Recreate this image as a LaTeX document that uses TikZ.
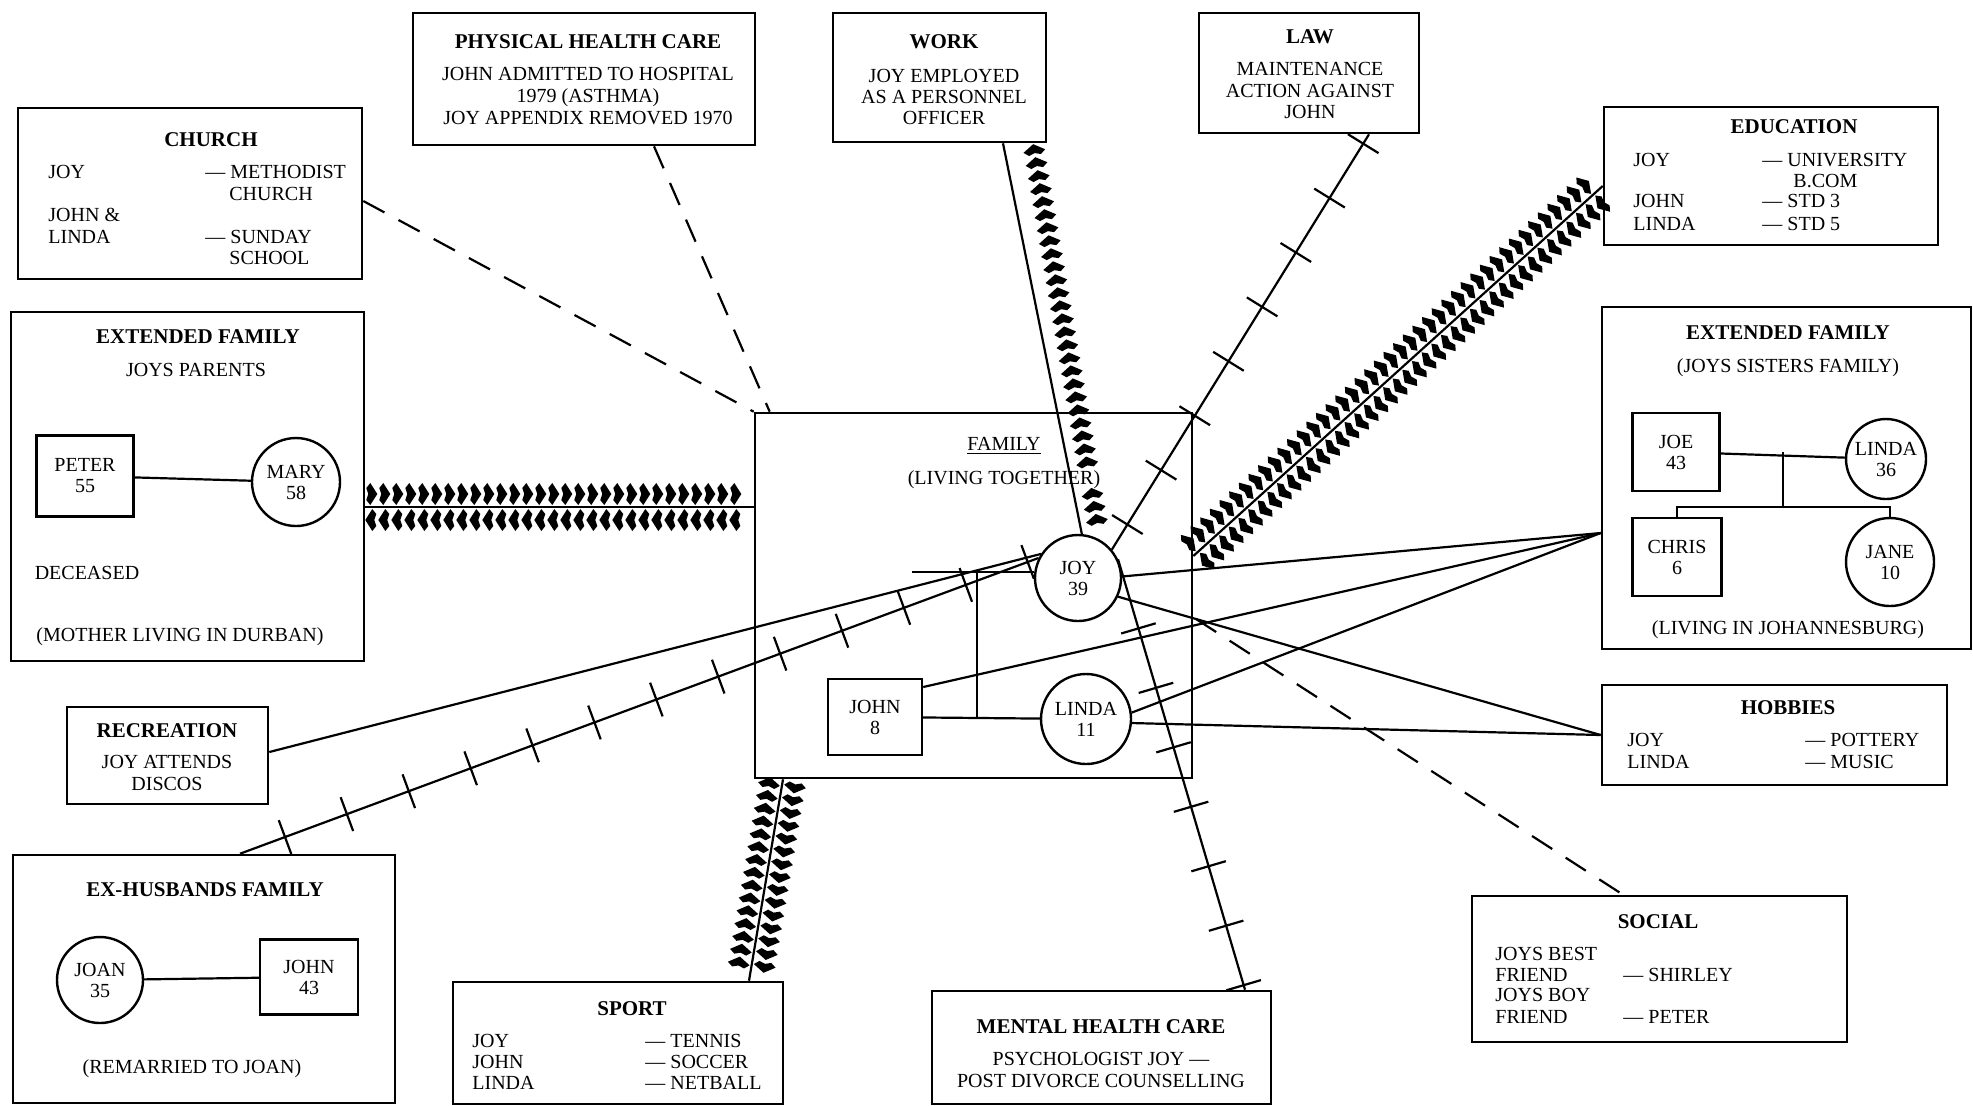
\documentclass[tikz,border=0pt]{standalone}
\usepackage{fontspec}
\setmainfont{Liberation Serif}
\usetikzlibrary{decorations.markings,fit}

\begin{document}
\begin{tikzpicture}[
  x=0.5pt, y=-0.5pt,
  font=\fontsize{10}{10.5}\selectfont,
  box/.style={draw, line width=1.3pt, inner sep=0pt},
  male/.style={draw, line width=1.2pt, minimum width=47pt, minimum height=38pt, align=center, inner sep=1pt},
  fem/.style={circle, draw, line width=1.2pt, minimum size=43pt, align=center, inner sep=1pt},
  txt/.style={inner sep=0pt, text height=6.6pt, text depth=0pt},
  lft/.style={txt, anchor=west},
  ttl/.style={txt, font=\fontsize{10.5}{11}\selectfont\bfseries},
  link/.style={line width=1.1pt},
  weak/.style={link, dash pattern=on 12pt off 8pt},
  % strong flow both ways: line with a row of heads on each side
  energy both/.style={postaction={decorate, decoration={markings,
      mark=between positions 3pt and -3pt step 6.5pt with {
        \fill (3pt,6.5pt) -- (-0.5pt,12pt) -- (-2.5pt,9.5pt) -- (-1.5pt,6.5pt)
          -- (-2.5pt,3.5pt) -- (-0.5pt,1pt) -- cycle;
        \fill (-3pt,-6.5pt) -- (0.5pt,-12pt) -- (2.5pt,-9.5pt) -- (1.5pt,-6.5pt)
          -- (2.5pt,-3.5pt) -- (0.5pt,-1pt) -- cycle;}}}},
  % flow one way: heads only, no line
  energy one/.style={postaction={decorate, decoration={markings,
      mark=between positions #1 step 6.6pt with {
        \fill (3pt,0) -- (-0.5pt,5.5pt) -- (-2.5pt,3pt) -- (-1.5pt,0)
          -- (-2.5pt,-3pt) -- (-0.5pt,-5.5pt) -- cycle;}}}},
  % stressful: crossed line
  stress/.style={postaction={decorate, decoration={markings,
      mark=between positions #1 with {\draw[line width=1.1pt] (0,-9pt) -- (0,9pt);}}}}
  ]

  \useasboundingbox (0,0) rectangle (1973,1105);

  % systems
  \node[box, fit={(18,108) (362,279)}] (church) {};
  \node[box, fit={(413,13) (755,145)}] (phys) {};
  \node[box, fit={(833,13) (1046,142)}] (work) {};
  \node[box, fit={(1199,13) (1419,133)}] (law) {};
  \node[box, fit={(1604,107) (1938,245)}] (edu) {};
  \node[box, fit={(11,312) (364,661)}] (extL) {};
  \node[box, fit={(755,413) (1192,778)}] (fam) {};
  \node[box, fit={(1602,307) (1971,649)}] (extR) {};
  \node[box, fit={(67,707) (268,804)}] (rec) {};
  \node[box, fit={(1602,685) (1947,785)}] (hob) {};
  \node[box, fit={(13,855) (395,1103)}] (exh) {};
  \node[box, fit={(453,982) (783,1104)}] (sport) {};
  \node[box, fit={(932,991) (1271,1104)}] (mental) {};
  \node[box, fit={(1472,896) (1847,1042)}] (social) {};

  % church
  \node[ttl] (churchT) at (211,140) {CHURCH};
  \node[lft] (church1) at (48,172) {JOY};
  \node[lft] (church2) at (205,172) {— METHODIST};
  \node[lft] (church3) at (229,194) {CHURCH};
  \node[lft] (church4) at (48,215) {JOHN \&};
  \node[lft] (church5) at (48,237) {LINDA};
  \node[lft] (church6) at (205,237) {— SUNDAY};
  \node[lft] (church7) at (229,258) {SCHOOL};

  % physical health care
  \node[ttl] (physT) at (588,42) {PHYSICAL HEALTH CARE};
  \node[txt] (phys1) at (588,74) {JOHN ADMITTED TO HOSPITAL};
  \node[txt] (phys2) at (588,96) {1979 (ASTHMA)};
  \node[txt] (phys3) at (588,118) {JOY APPENDIX REMOVED 1970};

  % work
  \node[ttl] (workT) at (944,42) {WORK};
  \node[txt] (work1) at (944,76) {JOY EMPLOYED};
  \node[txt] (work2) at (944,97) {AS A PERSONNEL};
  \node[txt] (work3) at (944,118) {OFFICER};

  % law
  \node[ttl] (lawT) at (1310,37) {LAW};
  \node[txt] (law1) at (1310,69) {MAINTENANCE};
  \node[txt] (law2) at (1310,91) {ACTION AGAINST};
  \node[txt] (law3) at (1310,112) {JOHN};

  % education
  \node[ttl] (eduT) at (1794,127) {EDUCATION};
  \node[lft] (edu1) at (1633,160) {JOY};
  \node[lft] (edu2) at (1762,160) {— UNIVERSITY};
  \node[lft] (edu3) at (1793,181) {B.COM};
  \node[lft] (edu4) at (1633,201) {JOHN};
  \node[lft] (edu5) at (1762,201) {— STD 3};
  \node[lft] (edu6) at (1633,224) {LINDA};
  \node[lft] (edu7) at (1762,224) {— STD 5};

  % extended family (parents)
  \node[ttl] (extLT) at (198,337) {EXTENDED FAMILY};
  \node[txt] (extL1) at (196,370) {JOYS PARENTS};
  \node[male, minimum width=48.5pt, minimum height=40.5pt] (peter) at (85,476) {PETER\\55};
  \node[fem, minimum size=44pt] (mary) at (296,482) {MARY\\58};
  \node[txt] (extL2) at (87,573) {DECEASED};
  \node[txt] (extL3) at (180,635) {(MOTHER LIVING IN DURBAN)};

  % household
  \node[txt] (famT) at (1004,444) {\underline{FAMILY}};
  \node[txt] (fam1) at (1004,478) {(LIVING TOGETHER)};
  \node[fem] (joy) at (1078,578) {JOY\\39};
  \node[male] (john) at (875,717) {JOHN\\8};
  \node[fem, minimum size=45pt] (linda) at (1086,719) {LINDA\\11};

  % extended family (sister)
  \node[ttl] (extRT) at (1788,333) {EXTENDED FAMILY};
  \node[txt] (extR1) at (1788,366) {(JOYS SISTERS FAMILY)};
  \node[male, minimum width=43.5pt, minimum height=39pt] (joe) at (1676,452) {JOE\\43};
  \node[fem, minimum size=40pt] (lin2) at (1886,459) {LINDA\\36};
  \node[male, minimum width=44.5pt, minimum height=39pt] (chris) at (1677,557) {CHRIS\\6};
  \node[fem, minimum size=44pt] (jane) at (1890,562) {JANE\\10};
  \node[txt] (extR2) at (1788,628) {(LIVING IN JOHANNESBURG)};

  % recreation
  \node[ttl] (recT) at (167,731) {RECREATION};
  \node[txt] (rec1) at (167,762) {JOY ATTENDS};
  \node[txt] (rec2) at (167,784) {DISCOS};

  % hobbies
  \node[ttl] (hobT) at (1788,708) {HOBBIES};
  \node[lft] (hob1) at (1627,740) {JOY};
  \node[lft] (hob2) at (1805,740) {— POTTERY};
  \node[lft] (hob3) at (1627,762) {LINDA};
  \node[lft] (hob4) at (1805,762) {— MUSIC};

  % ex-husband
  \node[ttl] (exhT) at (205,890) {EX-HUSBANDS FAMILY};
  \node[fem] (joan) at (100,980) {JOAN\\35};
  \node[male, minimum width=49pt, minimum height=37.5pt] (exjohn) at (309,977) {JOHN\\43};
  \node[txt] (exh1) at (192,1067) {(REMARRIED TO JOAN)};

  % sport
  \node[ttl] (sportT) at (632,1009) {SPORT};
  \node[lft] (sport1) at (472,1041) {JOY};
  \node[lft] (sport2) at (645,1041) {— TENNIS};
  \node[lft] (sport3) at (472,1062) {JOHN};
  \node[lft] (sport4) at (645,1062) {— SOCCER};
  \node[lft] (sport5) at (472,1083) {LINDA};
  \node[lft] (sport6) at (645,1083) {— NETBALL};

  % mental health care
  \node[ttl] (mentalT) at (1101,1027) {MENTAL HEALTH CARE};
  \node[txt] (mental1) at (1101,1059) {PSYCHOLOGIST JOY —};
  \node[txt] (mental2) at (1101,1081) {POST DIVORCE COUNSELLING};

  % social
  \node[ttl] (socialT) at (1658,922) {SOCIAL};
  \node[lft] (social1) at (1495,954) {JOYS BEST};
  \node[lft] (social2) at (1495,975) {FRIEND};
  \node[lft] (social3) at (1623,975) {— SHIRLEY};
  \node[lft] (social4) at (1495,995) {JOYS BOY};
  \node[lft] (social5) at (1495,1017) {FRIEND};
  \node[lft] (social6) at (1623,1017) {— PETER};

  % family trees
  \coordinate (exm) at (912,572);
  \coordinate (famM) at (977,572);
  \coordinate (sisM) at (1783,452);
  \coordinate (sisK) at (1783,507);
  \draw[link] (peter) -- (mary);
  \draw[link] (joan) -- (exjohn);
  \draw[link] (john) -- (linda);
  \draw[link] (exm) -- (exm -| joy.west);
  \draw[link] (famM) -- (famM |- john.east);
  \draw[link] (joe) -- (lin2);
  \draw[link] (sisM) -- (sisK);
  \draw[link] (chris.north) |- (sisK) -| (jane.north);

  % ties
  \draw[weak] (church.east |- 0,201) -- (fam.north west);
  \draw[weak] (phys.south -| 654,0) -- ([xshift=8pt]fam.north west);
  \draw[link] (work.south -| 1003,0) -- (joy.85);
  \path[energy one={0.05 and 0.13}, energy one={0.195 and 0.99}] (joy.60) -- (work.south -| 1033,0);
  \draw[link, energy both] (extL.east |- 0,507) -- (fam.west |- 0,507);
  \draw[link, energy both] (fam.east |- 0,556) -- (edu.west |- 0,186);
  \draw[link, energy both] (fam.south -| 783,0) -- (sport.north -| 749,0);
  \draw[link, stress={5.5pt and -2pt step 32pt}] (law.south -| 1369,0) -- (joy.40);
  \draw[link, stress={36pt and -1pt step 31pt}] (joy.25) -- (mental.north -| 1245,0);
  \draw[link, stress={24pt and -2pt step 33pt}] (exh.north -| 240,0) -- (joy.153);
  \draw[link] (rec.east |- 0,752) -- (joy.147);
  \draw[link] ([yshift=15pt]john.east) -- (extR.west |- 0,533);
  \draw[link] (joy.2) -- (extR.west |- 0,533);
  \draw[link] (linda.8) -- (extR.west |- 0,533);
  \draw[link] (joy.-25) -- (hob.west);
  \draw[link] (linda.-5) -- (hob.west);
  \coordinate (sj) at (1196,619);
  \draw[weak] (sj) -- (social.north -| 1623,0);

\end{tikzpicture}
\end{document}
